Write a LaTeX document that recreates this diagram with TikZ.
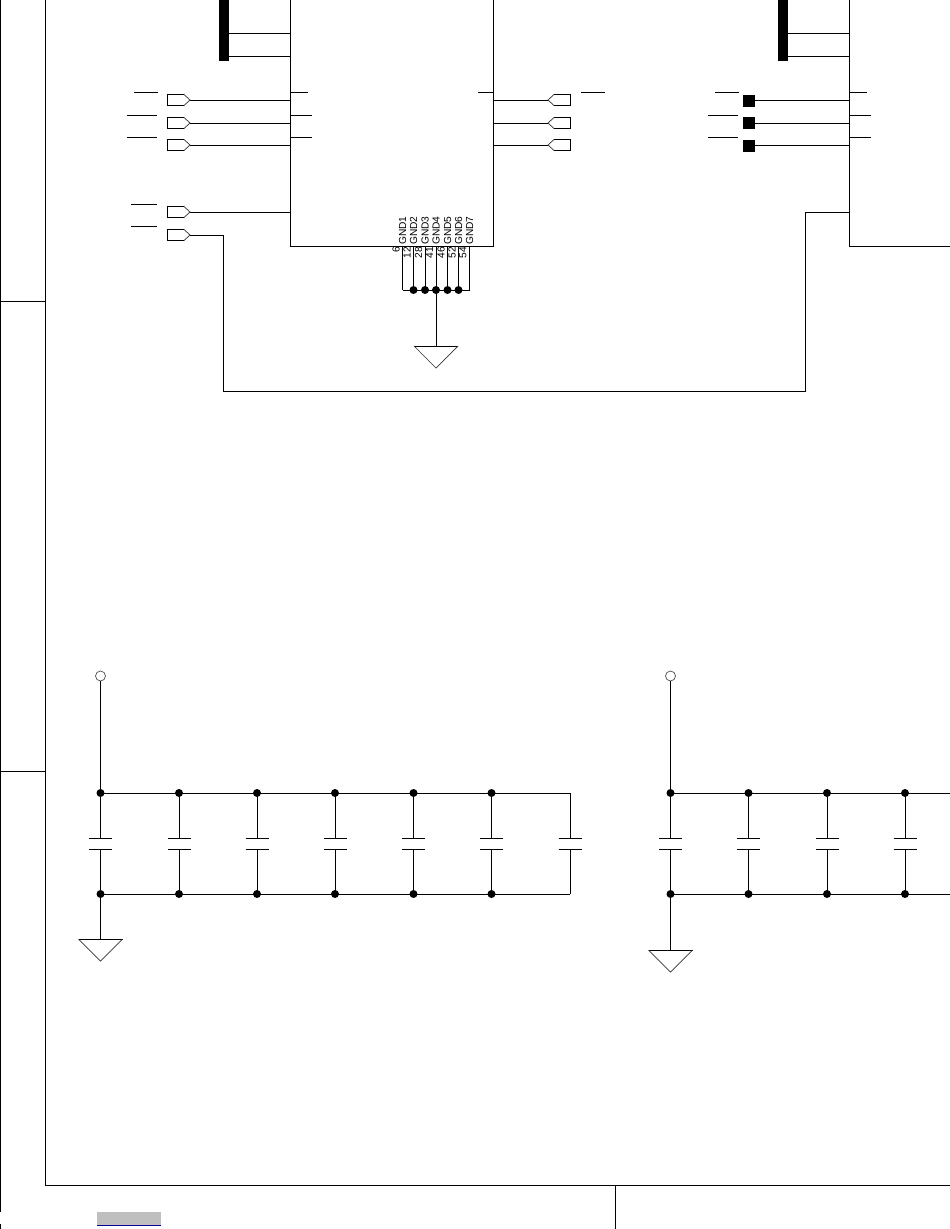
\documentclass[tikz,border=0pt]{standalone}
\usepackage{fontspec}
\setmainfont{Liberation Sans}
\tikzset{
  wire/.style={line width=1pt,black},
  frameline/.style={line width=1pt,black},
  thin part/.style={line width=0.7pt,black!80},
  busbar/.style={fill=black,draw=none},
  jdot/.style={circle,fill=black,inner sep=0pt,minimum size=8pt},
  padsq/.style={rectangle,fill=black,inner sep=0pt,minimum size=12pt},
  tp/.style={circle,draw=black!70,line width=0.7pt,fill=white,inner sep=0pt,minimum size=10pt},
  pinname/.style={rotate=90,anchor=west,inner sep=0pt,font=\fontsize{10.2}{11}\selectfont,text=black},
  pinnum/.style={rotate=90,anchor=east,inner sep=0pt,font=\fontsize{10.2}{11}\selectfont,text=black},
}
\begin{document}
\begin{tikzpicture}[x=1pt,y=-1pt,line cap=butt]
\useasboundingbox (0,0) rectangle (950,1229);
% frame
\coordinate (fa) at (45,0); \coordinate (fb) at (45,1185.5); \coordinate (fc) at (950,1185.5);
\coordinate (fd) at (615,1185.5); \coordinate (fe) at (615,1229);
\draw[frameline] (fa) -- (fb) -- (fc);
\draw[frameline] (fd) -- (fe);
\draw[frameline] (0.5,0) -- (0.5,1212);
\draw[frameline] (0.5,1224) -- (0.5,1229);
\draw[frameline] (0,301) -- (45,301);
\draw[frameline] (0,771) -- (45,771);
\fill[black!25] (97,1212) rectangle (161,1224.5);
\draw[line width=0.9pt,blue!60!black] (97,1225) -- (161,1225);
% left IC
\coordinate (ua) at (290.5,0); \coordinate (ub) at (290.5,246); \coordinate (uc) at (493,246); \coordinate (ud) at (493,0);
\draw[wire] (ua) -- (ub) -- (uc) -- (ud);
\fill[busbar] (219,0) rectangle (229,61);
\foreach \y in {33,56.5} \draw[wire] (229,\y) -- (290.5,\y);
\draw[wire] (290.5,92) -- (308,92);
\draw[wire] (290.5,115) -- (312,115);
\draw[wire] (290.5,137) -- (312,137);
\foreach \a/\b/\y in {134/158/92,127/157/115,127/157/137,131/157/204,131/157/226} \draw[wire] (\a,\y) -- (\b,\y);
% left ports
\foreach \n/\y in {a/100,b/123,c/145,d/212,e/235}{
  \coordinate (lp\n) at (190,\y);
  \draw[wire] (lp\n) ++(-6,-5.5) -- ++(-17,0) -- ++(0,11) -- ++(17,0);
  \draw[thin part] (184,\y-5.5) -- (lp\n) -- (184,\y+5.5);
}
\foreach \n in {a,b,c,d} \draw[wire] (lp\n) -- (290.5,0 |- lp\n);
\coordinate (r1) at (223,235); \coordinate (r2) at (223,391); \coordinate (r3) at (805.5,391); \coordinate (r4) at (805.5,212); \coordinate (r5) at (849.5,212);
\draw[wire] (lpe) -- (r1) -- (r2) -- (r3) -- (r4) -- (r5);
% right ports of left IC
\draw[wire] (478,92) -- (493,92);
\draw[wire] (581,92) -- (604.5,92);
\foreach \n/\y in {a/100,b/123,c/145}{
  \coordinate (rp\n) at (548,\y);
  \draw[wire] (rp\n) ++(6,-5.5) -- ++(16.5,0) -- ++(0,11) -- ++(-16.5,0);
  \draw[thin part] (554,\y-5.5) -- (rp\n) -- (554,\y+5.5);
  \draw[wire] (493,\y) -- (rp\n);
}
% GND pins
\foreach \x/\t/\p in {402.5/1/6,413.5/2/12,425/3/28,436/4/41,447.5/5/46,458.5/6/52,469.5/7/54}{
  \node[pinname] (gn\t) at (\x,245) {GND\t};
  \node[pinnum] (pm\t) at (\x-6.5,246.5) {\p};
  \coordinate (g\t) at (\x,246);
  \coordinate (h\t) at (\x,290);
  \draw[wire] (g\t) -- (h\t);
}
\draw[wire] (h1) -- (h7);
\foreach \t in {2,3,4,5,6} \node[jdot] (j\t) at (h\t) {};
\coordinate (gt) at (436,346);
\draw[wire] (j4) -- (gt);
\draw[wire] (414,346) -- (458,346);
\draw[thin part] (414,346) -- (436,368) -- (458,346);
% right IC
\coordinate (va) at (849.5,0); \coordinate (vb) at (849.5,246); \coordinate (vc) at (950,246);
\draw[wire] (va) -- (vb) -- (vc);
\fill[busbar] (778,0) rectangle (788,61);
\foreach \y in {33,56.5} \draw[wire] (788,\y) -- (849.5,\y);
\draw[wire] (849.5,92) -- (867,92);
\draw[wire] (849.5,115) -- (871,115);
\draw[wire] (849.5,137) -- (871,137);
\foreach \a/\b/\y in {715/739/92,708/738/115,708/738/137} \draw[wire] (\a,\y) -- (\b,\y);
\foreach \n/\y in {a/100.5,b/123,c/145.5}{
  \node[padsq] (sq\n) at (749,\y) {};
  \draw[wire] (sq\n) -- (849.5,\y);
}
% capacitor banks
\foreach \x/\id in {100.5/a,179/b,257/c,335/d,413.5/e,491.5/f,570/g,670.5/p,748.5/q,827/r,905/s}{
  \coordinate (t\id) at (\x,793);
  \coordinate (b\id) at (\x,894);
  \draw[wire] (t\id) -- (\x,838.5);
  \draw[wire] (\x,849.5) -- (b\id);
  \draw[wire] (\x-11.5,838.5) -- (\x+11.5,838.5);
  \draw[wire] (\x-11.5,849.5) -- (\x+11.5,849.5);
}
\draw[wire] (ta) -- (tg); \draw[wire] (ba) -- (bg);
\coordinate (tz) at (950,793); \coordinate (bz) at (950,894);
\draw[wire] (tp) -- (tz); \draw[wire] (bp) -- (bz);
\foreach \id in {a,b,c,d,e,f,p,q,r,s}{
  \node[jdot] at (t\id) {};
  \node[jdot] at (b\id) {};
}
\node[tp] (tpa) at (100.5,676) {};
\node[tp] (tpb) at (670.5,676) {};
\draw[wire] (tpa) -- (ta);
\draw[wire] (tpb) -- (tp);
% grounds
\coordinate (ga) at (100.5,939); \coordinate (gb) at (670.5,950);
\draw[wire] (ba) -- (ga);
\draw[wire] (bp) -- (gb);
\draw[wire] (78.5,939) -- (122.5,939);
\draw[thin part] (78.5,939) -- (100.5,961) -- (122.5,939);
\draw[wire] (648.5,950) -- (692.5,950);
\draw[thin part] (648.5,950) -- (670.5,972) -- (692.5,950);
\end{tikzpicture}
\end{document}
